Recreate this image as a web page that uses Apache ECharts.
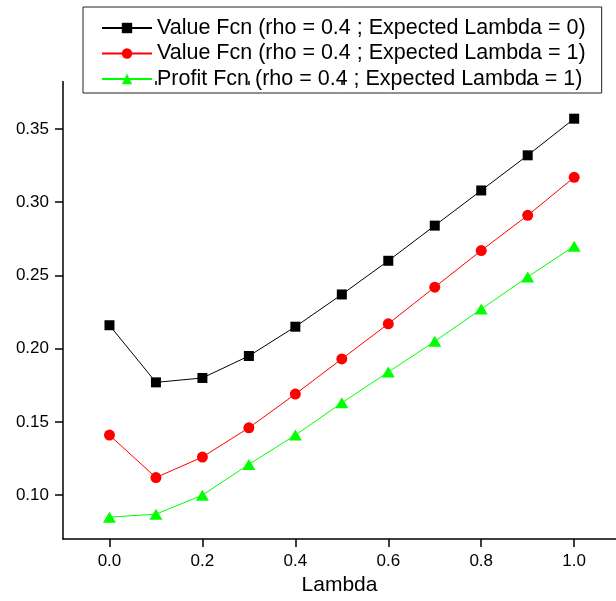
<!DOCTYPE html>
<html>
<head>
<meta charset="utf-8">
<script src="https://cdn.jsdelivr.net/npm/echarts@6/dist/echarts.min.js"></script>
<style>
html,body{margin:0;padding:0;background:#fff;}
#chart{width:616px;height:601px;}
</style>
</head>
<body>
<div id="chart"></div>
<script>
var lambdaValues = [0.0, 0.1, 0.2, 0.3, 0.4, 0.5, 0.6, 0.7, 0.8, 0.9, 1.0];
var valueFcnExp0 = [0.216, 0.177, 0.180, 0.195, 0.215, 0.237, 0.260, 0.284, 0.308, 0.332, 0.357];
var valueFcnExp1 = [0.141, 0.112, 0.126, 0.146, 0.169, 0.193, 0.217, 0.242, 0.267, 0.291, 0.317];
var profitFcnExp1 = [0.085, 0.087, 0.100, 0.121, 0.141, 0.163, 0.184, 0.205, 0.227, 0.249, 0.270];
var seriesNames = [
  'Value Fcn (rho = 0.4 ; Expected Lambda = 0)',
  'Value Fcn (rho = 0.4 ; Expected Lambda = 1)',
  'Profit Fcn (rho = 0.4 ; Expected Lambda = 1)'
];
var xMajorTicks = [0.0, 0.2, 0.4, 0.6, 0.8, 1.0];
var xMinorTicks = [-0.1, 0.1, 0.3, 0.5, 0.7, 0.9];
var yMajorTicks = [0.10, 0.15, 0.20, 0.25, 0.30, 0.35];
var yMinorTicks = [0.075, 0.125, 0.175, 0.225, 0.275, 0.325, 0.375];

function pairs(ys) { return lambdaValues.map(function (x, i) { return [x, ys[i]]; }); }

var font = 'Liberation Sans, Arial, sans-serif';
var chart = echarts.init(document.getElementById('chart'), null, {renderer: 'canvas'});
var xBase = {type: 'value', min: -0.1, max: 1.09, splitLine: {show: false}};
var yBase = {type: 'value', min: 0.07, max: 0.38, splitLine: {show: false}};

chart.setOption({
  animation: false,
  backgroundColor: '#fff',
  grid: {left: 63, top: 85, right: 0, bottom: 57, containLabel: false},
  legend: {
    orient: 'vertical',
    left: 83, top: 7,
    padding: [10, 16, 3, 18],
    itemGap: 3.5,
    itemWidth: 50,
    itemHeight: 13,
    borderColor: '#222',
    borderWidth: 1,
    textStyle: {fontFamily: font, fontSize: 21.5, lineHeight: 22, color: '#000'},
    data: seriesNames
  },
  xAxis: [
    Object.assign({}, xBase, {
      name: 'Lambda', nameLocation: 'middle', nameGap: 31,
      nameTextStyle: {fontFamily: font, fontSize: 21, color: '#000'},
      axisLine: {show: true, onZero: false, lineStyle: {color: '#000', width: 1.5}},
      axisTick: {show: true, inside: false, length: 8, customValues: xMajorTicks, lineStyle: {color: '#000', width: 1.5}},
      axisLabel: {show: true, margin: 14, customValues: xMajorTicks, fontFamily: font, fontSize: 17, color: '#000',
        formatter: function (v) { return v.toFixed(1); }}
    }),
    Object.assign({}, xBase, {
      axisLine: {show: false, onZero: false},
      axisTick: {show: true, inside: false, length: 4, customValues: xMinorTicks, lineStyle: {color: '#000', width: 1.5}},
      axisLabel: {show: false}
    })
  ],
  yAxis: [
    Object.assign({}, yBase, {
      axisLine: {show: true, onZero: false, lineStyle: {color: '#000', width: 1.5}},
      axisTick: {show: true, inside: false, length: 8, customValues: yMajorTicks, lineStyle: {color: '#000', width: 1.5}},
      axisLabel: {show: true, margin: 14, customValues: yMajorTicks, fontFamily: font, fontSize: 17, color: '#000',
        formatter: function (v) { return v.toFixed(2); }}
    }),
    Object.assign({}, yBase, {
      axisLine: {show: false, onZero: false},
      axisTick: {show: true, inside: false, length: 4, customValues: yMinorTicks, lineStyle: {color: '#000', width: 1.5}},
      axisLabel: {show: false}
    })
  ],
  series: [
    {name: seriesNames[0], type: 'line', data: pairs(valueFcnExp0), symbol: 'rect', symbolSize: 10,
      lineStyle: {color: '#000', width: 1}, itemStyle: {color: '#000'}, color: '#000'},
    {name: seriesNames[1], type: 'line', data: pairs(valueFcnExp1), symbol: 'circle', symbolSize: 11,
      lineStyle: {color: '#ff0000', width: 1}, itemStyle: {color: '#ff0000'}, color: '#ff0000'},
    {name: seriesNames[2], type: 'line', data: pairs(profitFcnExp1), symbol: 'triangle', symbolSize: [13, 11],
      lineStyle: {color: '#00ff00', width: 1}, itemStyle: {color: '#00ff00'}, color: '#00ff00'}
  ]
});
</script>
</body>
</html>
